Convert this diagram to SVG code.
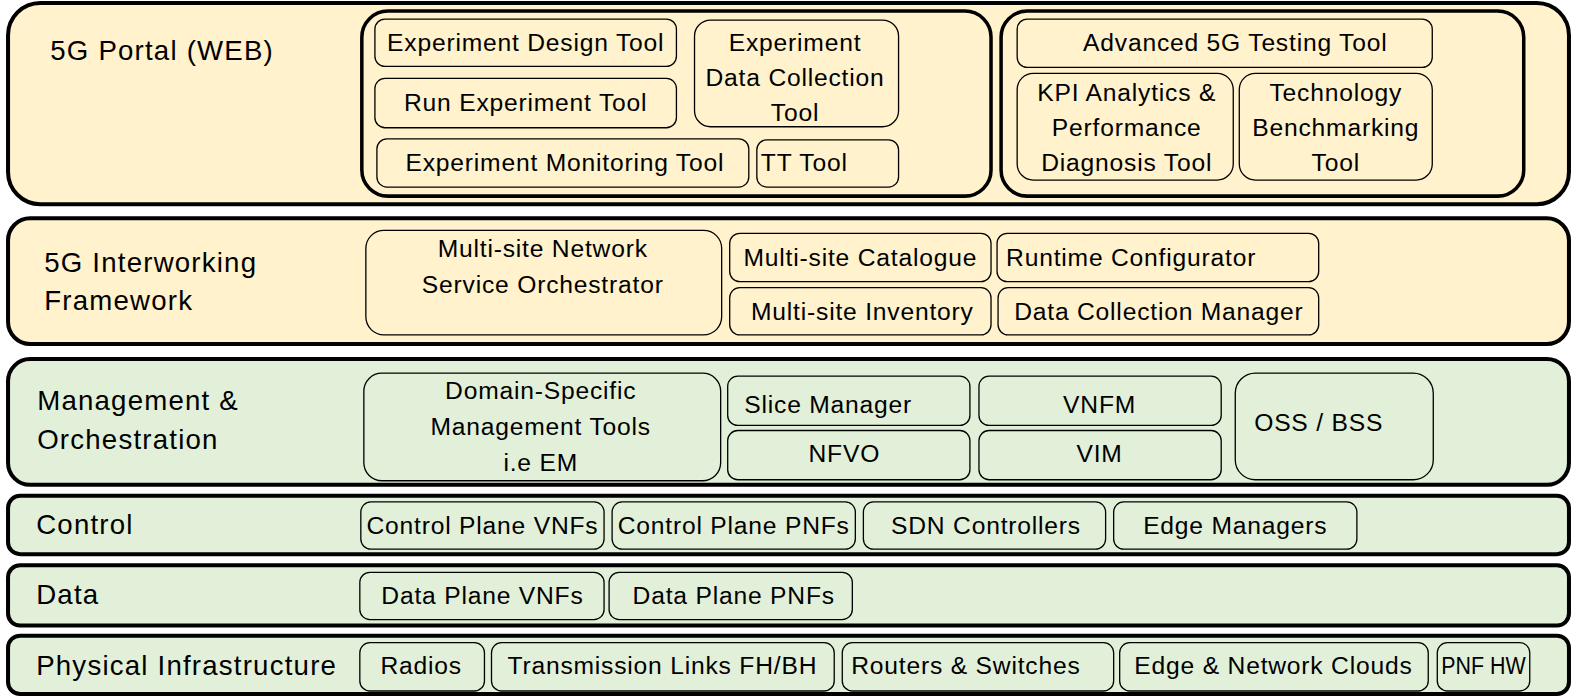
<svg xmlns="http://www.w3.org/2000/svg" width="1576" height="697" viewBox="0 0 1576 697">
<style>
.layer{stroke:#000;stroke-width:4}
.y{fill:#FFF2CC}
.g{fill:#E2F0D9}
.grp{fill:none;stroke:#000;stroke-width:3.5}
.box{stroke:#000;stroke-width:1.3}
text{font-family:"Liberation Sans",Arial,sans-serif;fill:#000;dominant-baseline:central}
.t{font-size:24.5px;letter-spacing:0.8px;text-anchor:middle}
.tl{font-size:24.5px;letter-spacing:0.8px}
.lab{font-size:27.5px;letter-spacing:1.2px}
</style>
<rect width="1576" height="697" fill="#fff"/>
<g transform="scale(1.0051,1.0058)">
<g id="layer-portal">
<rect class="layer y" x="8" y="3" width="1553" height="200" rx="32"/>
<text class="lab" x="50" y="50">5G Portal (WEB)</text>
<rect class="grp" x="360" y="11" width="626" height="184" rx="26"/>
<rect class="grp" x="996" y="11" width="520" height="184" rx="26"/>
</g>
<g id="n-design"><rect class="box y" x="373" y="19" width="300" height="47" rx="10"/><text class="t" x="523" y="42">Experiment Design Tool</text></g>
<g id="n-run"><rect class="box y" x="373" y="78" width="300" height="49" rx="10"/><text class="t" x="523" y="102">Run Experiment Tool</text></g>
<g id="n-datacoll"><rect class="box y" x="691" y="20" width="203" height="106" rx="16"/><text class="t" x="791" y="42">Experiment</text><text class="t" x="791" y="77">Data Collection</text><text class="t" x="791" y="112">Tool</text></g>
<g id="n-monitor"><rect class="box y" x="375" y="138" width="370" height="48" rx="10"/><text class="t" x="562" y="162">Experiment Monitoring Tool</text></g>
<g id="n-tt"><rect class="box y" x="753" y="139" width="141" height="47" rx="10"/><text class="tl" x="757" y="162">TT Tool</text></g>
<g id="n-adv"><rect class="box y" x="1012" y="19" width="413" height="48" rx="10"/><text class="t" x="1229" y="42">Advanced 5G Testing Tool</text></g>
<g id="n-kpi"><rect class="box y" x="1012" y="73" width="215" height="106" rx="16"/><text class="t" x="1121" y="92">KPI Analytics &amp;</text><text class="t" x="1121" y="127">Performance</text><text class="t" x="1121" y="162">Diagnosis Tool</text></g>
<g id="n-bench"><rect class="box y" x="1233" y="73" width="192" height="106" rx="16"/><text class="t" x="1329" y="92">Technology</text><text class="t" x="1329" y="127">Benchmarking</text><text class="t" x="1329" y="162">Tool</text></g>

<g id="layer-interworking">
<rect class="layer y" x="8" y="217" width="1553" height="125" rx="22"/>
<text class="lab" x="44" y="261">5G Interworking</text>
<text class="lab" x="44" y="299">Framework</text>
</g>
<g id="n-msnso"><rect class="box y" x="364" y="229" width="354" height="104" rx="18"/><text class="t" x="540" y="247">Multi-site Network</text><text class="t" x="540" y="283">Service Orchestrator</text></g>
<g id="n-cat"><rect class="box y" x="726" y="232" width="260" height="48" rx="10"/><text class="t" x="856" y="256">Multi-site Catalogue</text></g>
<g id="n-runtime"><rect class="box y" x="992" y="232" width="320" height="48" rx="10"/><text class="tl" x="1001" y="256">Runtime Configurator</text></g>
<g id="n-inv"><rect class="box y" x="726" y="286" width="260" height="47" rx="10"/><text class="t" x="858" y="310">Multi-site Inventory</text></g>
<g id="n-dcm"><rect class="box y" x="993" y="286" width="319" height="47" rx="10"/><text class="t" x="1153" y="310">Data Collection Manager</text></g>

<g id="layer-mano">
<rect class="layer g" x="8" y="357" width="1553" height="125" rx="22"/>
<text class="lab" x="37" y="398">Management &amp;</text>
<text class="lab" x="37" y="437">Orchestration</text>
</g>
<g id="n-dsmt"><rect class="box g" x="362" y="371" width="355" height="107" rx="18"/><text class="t" x="538" y="388">Domain-Specific</text><text class="t" x="538" y="424">Management Tools</text><text class="t" x="538" y="460">i.e EM</text></g>
<g id="n-slice"><rect class="box g" x="724" y="374" width="241" height="49" rx="10"/><text class="t" x="824" y="402">Slice Manager</text></g>
<g id="n-nfvo"><rect class="box g" x="724" y="428" width="241" height="49" rx="10"/><text class="t" x="840" y="451">NFVO</text></g>
<g id="n-vnfm"><rect class="box g" x="974" y="374" width="241" height="49" rx="10"/><text class="t" x="1094" y="402">VNFM</text></g>
<g id="n-vim"><rect class="box g" x="974" y="428" width="241" height="49" rx="10"/><text class="t" x="1094" y="451">VIM</text></g>
<g id="n-oss"><rect class="box g" x="1229" y="371" width="197" height="106" rx="20"/><text class="t" x="1312" y="420">OSS / BSS</text></g>

<g id="layer-control">
<rect class="layer g" x="8" y="493" width="1553" height="58" rx="12"/>
<text class="lab" x="36" y="521">Control</text>
</g>
<g id="n-cpv"><rect class="box g" x="359" y="499" width="242" height="47" rx="10"/><text class="t" x="480" y="522">Control Plane VNFs</text></g>
<g id="n-cpp"><rect class="box g" x="609" y="499" width="242" height="47" rx="10"/><text class="t" x="730" y="522">Control Plane PNFs</text></g>
<g id="n-sdn"><rect class="box g" x="859" y="499" width="241" height="47" rx="10"/><text class="t" x="981" y="522">SDN Controllers</text></g>
<g id="n-edgem"><rect class="box g" x="1108" y="499" width="242" height="47" rx="10"/><text class="t" x="1229" y="522">Edge Managers</text></g>

<g id="layer-data">
<rect class="layer g" x="8" y="562" width="1553" height="60" rx="12"/>
<text class="lab" x="36" y="591">Data</text>
</g>
<g id="n-dpv"><rect class="box g" x="358" y="569" width="243" height="47" rx="10"/><text class="t" x="480" y="592">Data Plane VNFs</text></g>
<g id="n-dpp"><rect class="box g" x="606" y="569" width="242" height="47" rx="10"/><text class="t" x="730" y="592">Data Plane PNFs</text></g>

<g id="layer-physical">
<rect class="layer g" x="8" y="632" width="1553" height="58" rx="12"/>
<text class="lab" x="36" y="662">Physical Infrastructure</text>
</g>
<g id="n-radios"><rect class="box g" x="358" y="639" width="124" height="48" rx="10"/><text class="t" x="419" y="662">Radios</text></g>
<g id="n-trans"><rect class="box g" x="489" y="639" width="341" height="48" rx="10"/><text class="t" x="659" y="662">Transmission Links FH/BH</text></g>
<g id="n-routers"><rect class="box g" x="838" y="639" width="270" height="48" rx="10"/><text class="t" x="961" y="662">Routers &amp; Switches</text></g>
<g id="n-clouds"><rect class="box g" x="1114" y="639" width="307" height="48" rx="10"/><text class="t" x="1267" y="662">Edge &amp; Network Clouds</text></g>
<g id="n-pnfhw"><rect class="box g" x="1430" y="639" width="92" height="48" rx="10"/><text x="1476" y="662" style="font-size:24.5px;text-anchor:middle" textLength="84" lengthAdjust="spacingAndGlyphs">PNF HW</text></g>
<g id="connectors"></g>
</g>
</svg>
